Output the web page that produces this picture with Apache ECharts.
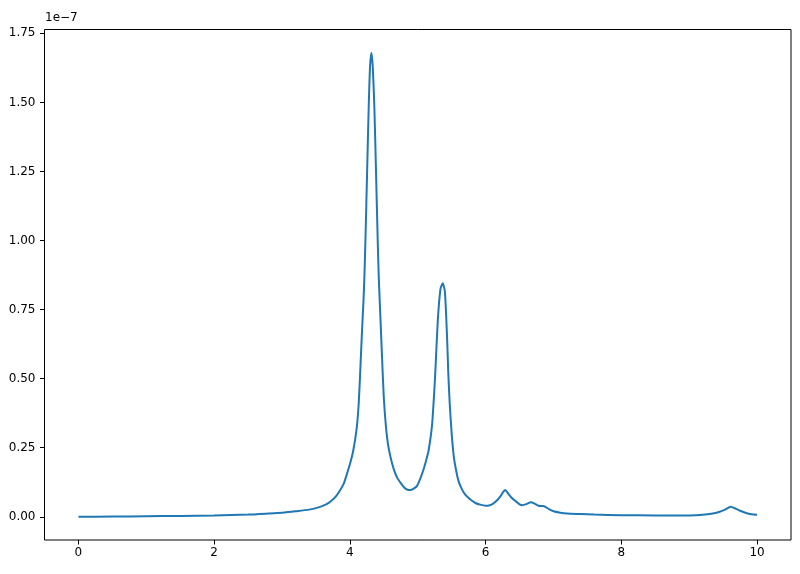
<!DOCTYPE html>
<html>
<head>
<meta charset="utf-8">
<script src="https://cdn.jsdelivr.net/npm/echarts@6/dist/echarts.min.js"></script>
<style>html,body{margin:0;padding:0;background:#fff}#c{width:800px;height:574px}</style>
</head>
<body>
<div id="c"></div>
<script>
// values in units of 1e-7
const xs = [0,0.5,1.0,1.5,2.0,2.5,2.8,3.0,3.2,3.4,3.55,3.65,3.72,3.80,3.86,3.91,3.95,4.00,4.05,4.10,4.13,4.155,4.18,4.20,4.214,4.229,4.253,4.277,4.297,4.317,4.337,4.361,4.386,4.41,4.425,4.45,4.475,4.50,4.53,4.56,4.60,4.65,4.70,4.75,4.80,4.85,4.89,4.94,4.99,5.04,5.09,5.13,5.16,5.21,5.24,5.26,5.295,5.335,5.368,5.40,5.432,5.45,5.471,5.50,5.53,5.56,5.60,5.65,5.70,5.75,5.80,5.85,5.92,6.00,6.05,6.10,6.17,6.22,6.26,6.29,6.33,6.39,6.45,6.50,6.54,6.60,6.67,6.72,6.78,6.84,6.88,6.94,7.00,7.10,7.20,7.40,7.60,8.00,8.50,9.00,9.20,9.35,9.45,9.53,9.61,9.68,9.75,9.85,9.95,10.0];
const ys = [0.000,0.001,0.002,0.003,0.005,0.008,0.012,0.015,0.020,0.026,0.035,0.045,0.056,0.076,0.098,0.120,0.150,0.190,0.240,0.320,0.410,0.540,0.680,0.780,0.870,1.000,1.240,1.480,1.630,1.680,1.630,1.480,1.240,1.000,0.870,0.720,0.570,0.430,0.330,0.265,0.215,0.170,0.140,0.122,0.106,0.098,0.097,0.102,0.112,0.140,0.175,0.210,0.240,0.330,0.440,0.530,0.710,0.825,0.845,0.815,0.650,0.520,0.410,0.300,0.220,0.175,0.130,0.100,0.080,0.068,0.058,0.050,0.044,0.040,0.041,0.046,0.060,0.075,0.090,0.097,0.085,0.067,0.055,0.045,0.042,0.046,0.053,0.048,0.040,0.039,0.036,0.027,0.020,0.015,0.012,0.010,0.008,0.006,0.005,0.005,0.007,0.012,0.018,0.026,0.036,0.030,0.022,0.013,0.008,0.007];
const xTicks = [0,2,4,6,8,10];
const yTicks = [0,0.25,0.5,0.75,1.0,1.25,1.5,1.75];
const offsetLabel = '1e\u22127';

const chart = echarts.init(document.getElementById('c'), null, {renderer:'canvas'});
const font = 'DejaVu Sans';
chart.setOption({
  animation:false,
  backgroundColor:'#fff',
  grid:{left:44.5,right:9,top:29.5,bottom:34,show:true,borderColor:'#000',borderWidth:1,backgroundColor:'transparent'},
  xAxis:{type:'value',min:-0.5,max:10.5,
    axisLine:{show:false,onZero:false},splitLine:{show:false},
    axisTick:{show:true,inside:false,length:4.5,lineStyle:{color:'#000',width:1},customValues:xTicks},
    axisLabel:{show:true,margin:7,color:'#000',fontFamily:font,fontSize:12,customValues:xTicks,formatter:v=>String(v)}},
  yAxis:{type:'value',min:-0.084,max:1.764,
    axisLine:{show:false,onZero:false},splitLine:{show:false},
    axisTick:{show:true,inside:false,length:4.5,lineStyle:{color:'#000',width:1},customValues:yTicks},
    axisLabel:{show:true,margin:9,color:'#000',fontFamily:font,fontSize:12,customValues:yTicks,formatter:v=>v.toFixed(2)}},
  graphic:[{type:'text',left:45,top:12,style:{text:offsetLabel,fontFamily:font,fontSize:12,fill:'#000'}}],
  series:[{type:'line',data:xs.map((x,i)=>[x,ys[i]]),showSymbol:false,smooth:0.2,
    lineStyle:{color:'#1f77b4',width:2},itemStyle:{color:'#1f77b4'}}]
});
</script>
</body>
</html>
